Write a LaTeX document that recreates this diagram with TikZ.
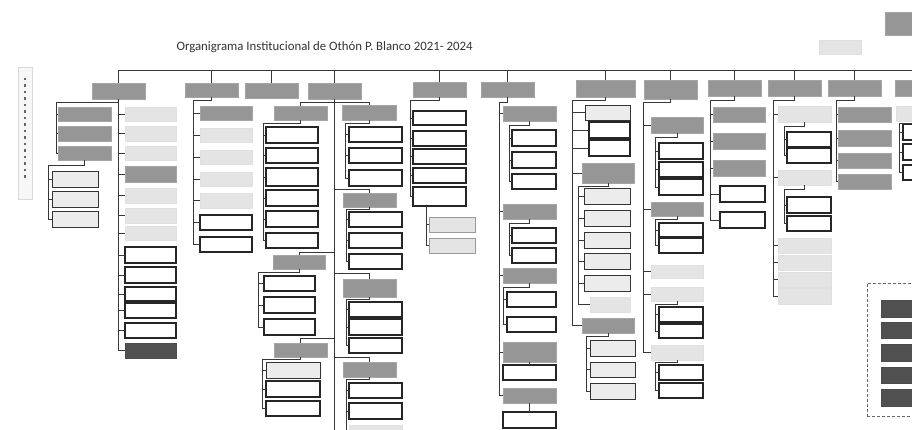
\documentclass[tikz,border=0pt]{standalone}
\usepackage{fontspec}
\setmainfont{Carlito}
\usetikzlibrary{positioning}
\definecolor{hdrgray}{RGB}{150,150,150}
\definecolor{palegray}{RGB}{228,228,228}
\definecolor{deepgray}{RGB}{80,80,80}
\definecolor{inkgray}{RGB}{55,55,55}

\begin{document}
\begin{tikzpicture}[x=1pt, y=-1pt,
    cell/.style n args={4}{minimum width={(#2-#1)*1pt}, minimum height={(#4-#3)*1pt}, at={({(#1+#2)/2},{(#3+#4)/2})}},
    base/.style={rectangle, inner sep=0pt, outer sep=0pt},
    hdr/.style={base, fill=hdrgray, draw=black!35, line width=0.4pt},
    lbox/.style={base, fill=palegray, draw=black!12},
    lbord/.style={base, fill=palegray!70, draw=black!80, line width=0.8pt},
    wbox/.style={base, fill=white, draw=black!85, line width=1.1pt},
    dbox/.style={base, fill=deepgray, draw=black!70},
    wire/.style={draw=inkgray, line width=0.6pt}
]
    \useasboundingbox (0,0) rectangle (912,430);
    \clip (0,0) rectangle (912,430);
    \fill[white] (0,0) rectangle (912,430);

    % Title and loose boxes
    \node[anchor=west, text=black!80, font=\fontsize{12.8}{15}\selectfont] (title) at (173,47) {Organigrama Institucional de Othón P. Blanco 2021- 2024};
    \node[hdr, cell={885}{940}{12}{35}] (cabildo) {};
    \node[lbox, cell={819}{861}{40}{54}] (note) {};
    \node[base, draw=black!15, fill=black!3, cell={18}{32}{67}{199}] (side) {};
    \draw[black!60, line width=1.4pt, dash pattern=on 2.5pt off 4pt] (side.north |- 0,78) -- (side.north |- 0,180);

    % Column headers
    \node[hdr, cell={92}{145}{83}{99}] (hA) {};
    \node[hdr, cell={185}{238}{83}{97}] (hB) {};
    \node[hdr, cell={245}{298}{83}{98}] (hC) {};
    \node[hdr, cell={308}{361}{83}{99}] (hD) {};
    \node[hdr, cell={413}{466}{82}{97}] (hE) {};
    \node[hdr, cell={481}{534}{82}{97}] (hF) {};
    \node[hdr, cell={576}{635}{80}{97}] (hG) {};
    \node[hdr, cell={644}{697}{80}{99}] (hH) {};
    \node[hdr, cell={708}{761}{80}{96}] (hI) {};
    \node[hdr, cell={768}{821}{80}{96}] (hJ) {};
    \node[hdr, cell={828}{881}{80}{96}] (hK) {};
    \node[hdr, cell={895}{948}{80}{96}] (hL) {};

    % Main bus
    \coordinate (busL) at (118,71);
    \coordinate (busR) at (912,71);
    \draw[wire, line width=1pt] (busL) -- (busR);
    \foreach \h in {hA,hB,hC,hD,hE,hF,hG,hH,hI,hJ,hK,hL}
        \draw[wire] (busL -| \h.north) -- (\h.north);

    % Column A
    \foreach \t/\b [count=\i] in {107/121,126/141,146/160}
        \node[hdr, cell={58}{111}{\t}{\b}] (al\i) {};
    \foreach \t/\b [count=\i] in {171/187,191/207,211/227}
        \node[lbord, cell={52}{98}{\t}{\b}] (aw\i) {};
    \foreach \s/\t/\b [count=\i] in {lbox/107/121,lbox/126/141,lbox/146/160,hdr/166/182,lbox/188/203,lbox/208/223,lbox/226/240,wbox/247/263,wbox/267/283,wbox/287/301,wbox/303/318,wbox/323/338,dbox/343/358}
        \node[\s, cell={125}{176}{\t}{\b}] (ar\i) {};
    \coordinate (jA) at (56,102);
    \coordinate (sA) at (48,165);
    \draw[wire] (hA.south) -- (hA.south |- ar13.west);
    \foreach \i in {1,...,13}
        \draw[wire] (hA.south |- ar\i.west) -- (ar\i.west);
    \draw[wire] (hA.south |- jA) -- (jA) -- (jA |- al3.west);
    \draw[wire] (al3.south) |- (sA) -- (sA |- aw3.west);
    \foreach \i in {1,2,3} {
        \draw[wire] (jA |- al\i.west) -- (al\i.west);
        \draw[wire] (sA |- aw\i.west) -- (aw\i.west);
    }

    % Column B
    \foreach \s/\t/\b [count=\i] in {hdr/106/120,lbox/128/142,lbox/150/164,lbox/172/186,lbox/193/208,wbox/215/230,wbox/237/252}
        \node[\s, cell={200}{252}{\t}{\b}] (b\i) {};
    \coordinate (jB) at (193,100);
    \draw[wire] (hB.south) |- (jB) -- (jB |- b7.west);
    \foreach \i in {1,...,7}
        \draw[wire] (jB |- b\i.west) -- (b\i.west);

    % Column D
    \coordinate (endD) at (334.5,430);
    \draw[wire] (hD.south) -- (endD);
    \node[hdr, cell={274}{327}{106}{120}] (d1) {};
    \node[hdr, cell={342}{396}{105}{120}] (d2) {};
    \node[hdr, cell={343}{396}{193}{207}] (d3) {};
    \node[hdr, cell={273}{325}{255}{269}] (d4) {};
    \node[hdr, cell={343}{396}{279}{297}] (d5) {};
    \node[hdr, cell={274}{327}{343}{357}] (d6) {};
    \node[hdr, cell={343}{396}{362}{377}] (d7) {};
    \foreach \d/\y in {d1/102,d2/102,d3/189,d4/252,d5/273,d6/338,d7/357}
        \draw[wire] (hD.south |- 0,\y) -| (\d.north);
    \foreach \t/\b [count=\i] in {127/143,148/163,168/186,190/206,211/227,233/248}
        \node[wbox, cell={266}{318}{\t}{\b}] (d1c\i) {};
    \coordinate (sD1) at (263,123);
    \draw[wire] (d1.south) |- (sD1) -- (sD1 |- d1c6.west);
    \foreach \i in {1,...,6}
        \draw[wire] (sD1 |- d1c\i.west) -- (d1c\i.west);
    \foreach \t/\b [count=\i] in {127/142,148/163,170/186}
        \node[wbox, cell={349}{402}{\t}{\b}] (d2c\i) {};
    \coordinate (sD2) at (345,123);
    \draw[wire] (d2.south) |- (sD2) -- (sD2 |- d2c3.west);
    \foreach \i in {1,2,3}
        \draw[wire] (sD2 |- d2c\i.west) -- (d2c\i.west);
    \foreach \t/\b [count=\i] in {212/227,233/248,254/269}
        \node[wbox, cell={349}{402}{\t}{\b}] (d3c\i) {};
    \coordinate (sD3) at (346,209);
    \draw[wire] (d3.south) |- (sD3) -- (sD3 |- d3c3.west);
    \foreach \i in {1,2,3}
        \draw[wire] (sD3 |- d3c\i.west) -- (d3c\i.west);
    \foreach \t/\b [count=\i] in {276/291,297/313,319/335}
        \node[wbox, cell={264}{315}{\t}{\b}] (d4c\i) {};
    \coordinate (sD4) at (258,272);
    \draw[wire] (d4.south) |- (sD4) -- (sD4 |- d4c3.west);
    \foreach \i in {1,2,3}
        \draw[wire] (sD4 |- d4c\i.west) -- (d4c\i.west);
    \foreach \t/\b [count=\i] in {302/317,319/335,338/353}
        \node[wbox, cell={349}{402}{\t}{\b}] (d5c\i) {};
    \coordinate (sD5) at (346,299);
    \draw[wire] (d5.south) |- (sD5) -- (sD5 |- d5c3.west);
    \foreach \i in {1,2,3}
        \draw[wire] (sD5 |- d5c\i.west) -- (d5c\i.west);
    \foreach \s/\t/\b [count=\i] in {lbord/362/378,wbox/381/397,wbox/401/416}
        \node[\s, cell={266}{320}{\t}{\b}] (d6c\i) {};
    \coordinate (sD6) at (262,359);
    \draw[wire] (d6.south) |- (sD6) -- (sD6 |- d6c3.west);
    \foreach \i in {1,2,3}
        \draw[wire] (sD6 |- d6c\i.west) -- (d6c\i.west);
    \foreach \s/\t/\b [count=\i] in {wbox/383/398,wbox/403/419,lbox/425/440}
        \node[\s, cell={349}{402}{\t}{\b}] (d7c\i) {};
    \coordinate (sD7) at (346,379);
    \draw[wire] (d7.south) |- (sD7) -- (sD7 |- d7c3.west);
    \foreach \i in {1,2,3}
        \draw[wire] (sD7 |- d7c\i.west) -- (d7c\i.west);

    % Column E
    \foreach \t/\b [count=\i] in {111/125,131/146,149/164,168/183,187/206}
        \node[wbox, cell={413}{466}{\t}{\b}] (e\i) {};
    \foreach \t/\b [count=\i from 6] in {217/232,238/253}
        \node[lbox, draw=black!40, cell={429}{475}{\t}{\b}] (e\i) {};
    \coordinate (jE) at (410,100);
    \coordinate (sE) at (426,206);
    \draw[wire] (hE.south) |- (jE) -- (jE |- e5.west);
    \foreach \i in {1,...,5}
        \draw[wire] (jE |- e\i.west) -- (e\i.west);
    \draw[wire] (sE) -- (sE |- e7.west);
    \foreach \i in {6,7}
        \draw[wire] (sE |- e\i.west) -- (e\i.west);

    % Column F
    \foreach \t/\b [count=\i] in {106/121,204/219,268/283,342/362,388/403}
        \node[hdr, cell={503}{556}{\t}{\b}] (f\i) {};
    \coordinate (jF) at (499,102);
    \draw[wire] (hF.south) |- (jF) -- (jF |- f5.west);
    \foreach \i in {1,...,5}
        \draw[wire] (jF |- f\i.west) -- (f\i.west);
    \foreach \t/\b [count=\i] in {130/146,152/168,174/189}
        \node[wbox, cell={512}{556}{\t}{\b}] (f1c\i) {};
    \coordinate (sF1) at (509,125);
    \draw[wire] (f1.south) |- (sF1) -- (sF1 |- f1c3.west);
    \foreach \i in {1,2,3}
        \draw[wire] (sF1 |- f1c\i.west) -- (f1c\i.west);
    \foreach \t/\b [count=\i] in {228/243,248/263}
        \node[wbox, cell={512}{556}{\t}{\b}] (f2c\i) {};
    \coordinate (sF2) at (509,223);
    \draw[wire] (f2.south) |- (sF2) -- (sF2 |- f2c2.west);
    \foreach \i in {1,2}
        \draw[wire] (sF2 |- f2c\i.west) -- (f2c\i.west);
    \foreach \t/\b [count=\i] in {292/307,317/332}
        \node[wbox, cell={507}{556}{\t}{\b}] (f3c\i) {};
    \coordinate (sF3) at (503,287);
    \draw[wire] (f3.south) |- (sF3) -- (sF3 |- f3c2.west);
    \foreach \i in {1,2}
        \draw[wire] (sF3 |- f3c\i.west) -- (f3c\i.west);
    \node[wbox, cell={503}{556}{365}{380}] (f4c1) {};
    \node[wbox, cell={503}{556}{412}{428}] (f5c1) {};
    \draw[wire] (f4.south) -- (f4c1.north);
    \draw[wire] (f5.south) -- (f5c1.north);

    % Column G
    \node[lbord, cell={585}{630}{105}{120}] (g1) {};
    \node[wbox, cell={589}{630}{122}{138}] (g2) {};
    \node[wbox, cell={589}{630}{140}{156}] (g3) {};
    \node[hdr, cell={582}{634}{163}{183}] (g4) {};
    \node[hdr, cell={582}{634}{318}{333}] (g5) {};
    \coordinate (jG) at (572,100);
    \draw[wire] (hG.south) |- (jG) -- (jG |- g5.west);
    \foreach \i in {1,...,5}
        \draw[wire] (jG |- g\i.west) -- (g\i.west);
    \foreach \s/\l/\t/\b [count=\i] in {lbord/584/188/204,lbord/584/210/226,lbord/584/232/248,lbord/584/253/269,lbord/584/275/291,lbox/590/297/312}
        \node[\s, cell={\l}{630}{\t}{\b}] (g4c\i) {};
    \coordinate (sG4) at (578,186);
    \draw[wire] (g4.south) |- (sG4) -- (sG4 |- g4c6.west);
    \foreach \i in {1,...,6}
        \draw[wire] (sG4 |- g4c\i.west) -- (g4c\i.west);
    \foreach \t/\b [count=\i] in {340/356,362/377,383/399}
        \node[lbord, cell={590}{635}{\t}{\b}] (g5c\i) {};
    \coordinate (sG5) at (586,336);
    \draw[wire] (g5.south) |- (sG5) -- (sG5 |- g5c3.west);
    \foreach \i in {1,2,3}
        \draw[wire] (sG5 |- g5c\i.west) -- (g5c\i.west);

    % Column H
    \foreach \s/\t/\b [count=\i] in {hdr/117/133,hdr/202/216,lbox/265/278,lbox/287/301,lbox/345/360}
        \node[\s, cell={651}{703}{\t}{\b}] (h\i) {};
    \coordinate (jH) at (643,102);
    \draw[wire] (hH.south) |- (jH) -- (jH |- h5.west);
    \foreach \i in {1,...,5}
        \draw[wire] (jH |- h\i.west) -- (h\i.west);
    \foreach \t/\b [count=\i] in {143/159,162/177,179/195}
        \node[wbox, cell={659}{703}{\t}{\b}] (h1c\i) {};
    \coordinate (sH1) at (655,137);
    \draw[wire] (h1.south) |- (sH1) -- (sH1 |- h1c3.west);
    \foreach \i in {1,2,3}
        \draw[wire] (sH1 |- h1c\i.west) -- (h1c\i.west);
    \foreach \t/\b [count=\i] in {223/237,238/253}
        \node[wbox, cell={659}{703}{\t}{\b}] (h2c\i) {};
    \coordinate (sH2) at (655,219);
    \draw[wire] (h2.south) |- (sH2) -- (sH2 |- h2c2.west);
    \foreach \i in {1,2}
        \draw[wire] (sH2 |- h2c\i.west) -- (h2c\i.west);
    \foreach \t/\b [count=\i] in {307/322,324/338}
        \node[wbox, cell={659}{703}{\t}{\b}] (h4c\i) {};
    \coordinate (sH4) at (655,304);
    \draw[wire] (h4.south) |- (sH4) -- (sH4 |- h4c2.west);
    \foreach \i in {1,2}
        \draw[wire] (sH4 |- h4c\i.west) -- (h4c\i.west);
    \foreach \t/\b [count=\i] in {365/380,383/398}
        \node[wbox, cell={659}{703}{\t}{\b}] (h5c\i) {};
    \coordinate (sH5) at (655,362);
    \draw[wire] (h5.south) |- (sH5) -- (sH5 |- h5c2.west);
    \foreach \i in {1,2}
        \draw[wire] (sH5 |- h5c\i.west) -- (h5c\i.west);

    % Column I
    \foreach \s/\l/\t/\b [count=\i] in {hdr/713/107/122,hdr/713/133/149,hdr/713/160/176,wbox/720/186/202,wbox/720/212/228}
        \node[\s, cell={\l}{765}{\t}{\b}] (i\i) {};
    \coordinate (jI) at (710,100);
    \draw[wire] (hI.south) |- (jI) -- (jI |- i5.west);
    \foreach \i in {1,...,5}
        \draw[wire] (jI |- i\i.west) -- (i\i.west);

    % Column J
    \foreach \t/\b [count=\i] in {106/122,170/185,238/253,255/270,272/287,288/304}
        \node[lbox, cell={778}{831}{\t}{\b}] (j\i) {};
    \coordinate (jJ) at (773,100);
    \draw[wire] (hJ.south) |- (jJ) -- (jJ |- j6.west);
    \foreach \i in {1,...,6}
        \draw[wire] (jJ |- j\i.west) -- (j\i.west);
    \foreach \t/\b [count=\i] in {132/147,148/163}
        \node[wbox, cell={787}{831}{\t}{\b}] (j1c\i) {};
    \coordinate (sJ1) at (784,126);
    \draw[wire] (j1.south) |- (sJ1) -- (sJ1 |- j1c2.west);
    \foreach \i in {1,2}
        \draw[wire] (sJ1 |- j1c\i.west) -- (j1c\i.west);
    \foreach \t/\b [count=\i] in {197/213,216/231}
        \node[wbox, cell={787}{831}{\t}{\b}] (j2c\i) {};
    \coordinate (sJ2) at (784,189);
    \draw[wire] (j2.south) |- (sJ2) -- (sJ2 |- j2c2.west);
    \foreach \i in {1,2}
        \draw[wire] (sJ2 |- j2c\i.west) -- (j2c\i.west);

    % Column K
    \foreach \t/\b [count=\i] in {107/122,130/146,153/168,174/189}
        \node[hdr, cell={838}{891}{\t}{\b}] (k\i) {};
    \coordinate (jK) at (836,100);
    \draw[wire] (hK.south) |- (jK) -- (jK |- k4.west);
    \foreach \i in {1,...,4}
        \draw[wire] (jK |- k\i.west) -- (k\i.west);

    % Column L (cut by the page edge)
    \node[lbox, cell={896}{949}{106}{121}] (l1) {};
    \foreach \t/\b [count=\i] in {124/140,144/160,165/180}
        \node[wbox, cell={903}{956}{\t}{\b}] (l1c\i) {};
    \coordinate (sL1) at (899,123);
    \draw[wire] (hL.south) -- (l1.north);
    \draw[wire] (l1.south) |- (sL1) -- (sL1 |- l1c3.west);
    \foreach \i in {1,2,3}
        \draw[wire] (sL1 |- l1c\i.west) -- (l1c\i.west);

    % Legend
    \node[base, draw=black!60, densely dashed, cell={867}{935}{283}{416}] (legend) {};
    \foreach \t/\b [count=\i] in {300/317,322/338,344/361,367/383,389/406}
        \node[dbox, cell={881}{935}{\t}{\b}] (leg\i) {};
\end{tikzpicture}
\end{document}
